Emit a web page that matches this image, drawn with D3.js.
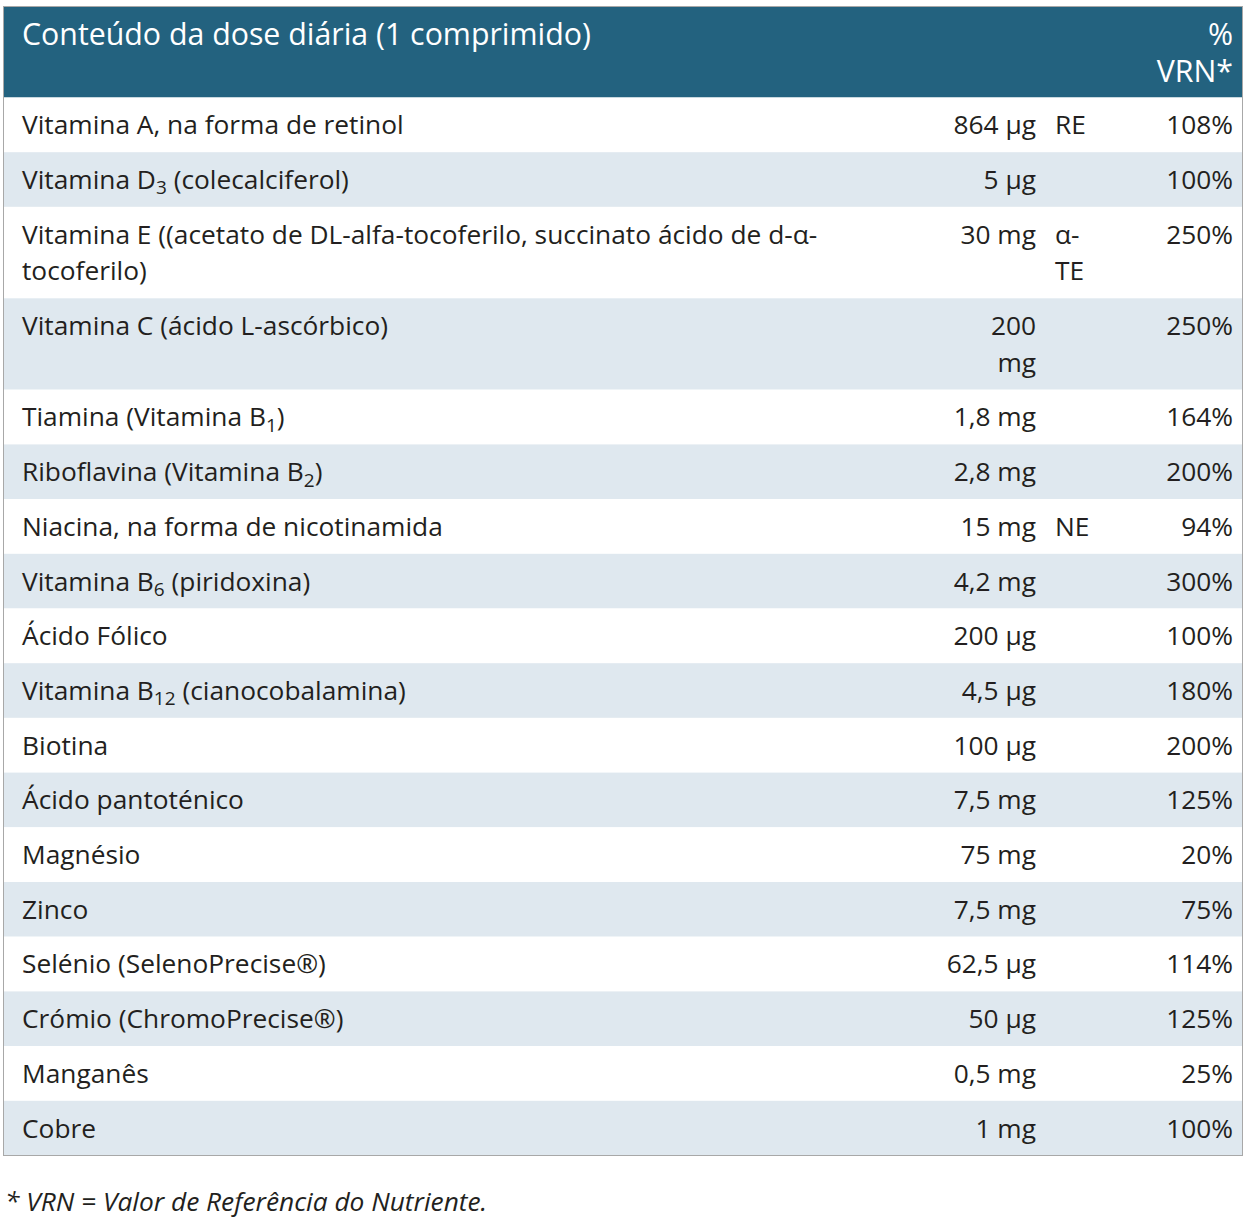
<!DOCTYPE html>
<html>
<head>
<meta charset="utf-8">
<script src="https://cdn.jsdelivr.net/npm/d3@7"></script>
<style>
  body { margin: 0; background: #fff; }
  svg text { font-family: "Open Sans", sans-serif; }
</style>
</head>
<body>
<div id="chart"></div>
<script>
// table content: one entry per row, "\n" marks where the original cell wraps
const headerTitle = "Conteúdo da dose diária (1 comprimido)";
const headerPct = "%\nVRN*";

const nutrients = [
  "Vitamina A, na forma de retinol",
  "Vitamina D_3 (colecalciferol)",
  "Vitamina E ((acetato de DL-alfa-tocoferilo, succinato ácido de d-α-\ntocoferilo)",
  "Vitamina C (ácido L-ascórbico)",
  "Tiamina (Vitamina B_1)",
  "Riboflavina (Vitamina B_2)",
  "Niacina, na forma de nicotinamida",
  "Vitamina B_6 (piridoxina)",
  "Ácido Fólico",
  "Vitamina B_12 (cianocobalamina)",
  "Biotina",
  "Ácido pantoténico",
  "Magnésio",
  "Zinco",
  "Selénio (SelenoPrecise®)",
  "Crómio (ChromoPrecise®)",
  "Manganês",
  "Cobre"
];
const amounts = [
  "864 µg", "5 µg", "30 mg", "200\nmg", "1,8 mg", "2,8 mg", "15 mg", "4,2 mg",
  "200 µg", "4,5 µg", "100 µg", "7,5 mg", "75 mg", "7,5 mg", "62,5 µg",
  "50 µg", "0,5 mg", "1 mg"
];
const units = [
  "RE", "", "α-\nTE", "", "", "", "NE", "", "", "", "", "", "", "", "", "", "", ""
];
const vrn = [
  "108%", "100%", "250%", "250%", "164%", "200%", "94%", "300%", "100%",
  "180%", "200%", "125%", "20%", "75%", "114%", "125%", "25%", "100%"
];
const footnote = "* VRN = Valor de Referência do Nutriente.";

const W = 1245, H = 1228;
const tbl = { left: 3.5, right: 1242.5, top: 6.5 };
const lineH = 36.7, padY = 9, headPadY = 8.8;
const col = { name: 22, amountEnd: 1036, unit: 1055, pctEnd: 1233 };
const fs = 26.3, headFs = 30.3, subFs = 19;
const textColor = "#231f20", headBg = "#23627f", stripe = "#dfe8ef", borderColor = "#a8a8a8";

const rows = nutrients.map((n, i) => ({
  name: n.split("\n"),
  amount: amounts[i].split("\n"),
  unit: units[i] ? units[i].split("\n") : [],
  pct: vrn[i].split("\n")
}));
rows.forEach(r => {
  r.lines = Math.max(r.name.length, r.amount.length, r.unit.length, r.pct.length);
  r.h = r.lines * lineH + 2 * padY;
});

const headLines = Math.max(1, headerPct.split("\n").length);
const headH = headLines * lineH + 2 * headPadY;

// cumulative row tops
let yy = tbl.top + headH;
rows.forEach(r => { r.y = yy; yy += r.h; });
const tableBottom = yy;

const svg = d3.select("#chart").append("svg")
  .attr("width", W).attr("height", H);

// header
svg.append("rect")
  .attr("x", tbl.left).attr("y", tbl.top)
  .attr("width", tbl.right - tbl.left).attr("height", headH)
  .attr("fill", headBg);

// baseline inside a line box for a given font size
const baseline = (top, size) => top + (lineH - size * 1.362) / 2 + size * 1.069;

svg.append("text")
  .attr("x", col.name)
  .attr("y", baseline(tbl.top + headPadY, headFs))
  .attr("font-size", headFs).attr("fill", "#fff")
  .text(headerTitle);

svg.append("text")
  .attr("text-anchor", "end").attr("font-size", headFs).attr("fill", "#fff")
  .selectAll("tspan")
  .data(headerPct.split("\n"))
  .join("tspan")
  .attr("x", col.pctEnd)
  .attr("y", (d, i) => baseline(tbl.top + headPadY + i * lineH, headFs))
  .text(d => d);

// body rows
const g = svg.selectAll("g.row")
  .data(rows)
  .join("g")
  .attr("class", "row")
  .attr("transform", d => `translate(0,${d.y})`);

g.append("rect")
  .attr("x", tbl.left).attr("y", 0)
  .attr("width", tbl.right - tbl.left).attr("height", d => d.h)
  .attr("fill", (d, i) => i % 2 ? stripe : "#fff");

// writes a line with "_" subscripts (e.g. B_12) as tspans
function richLine(sel, line) {
  const parts = line.split(/_(\d+)/);
  let shifted = false;
  parts.forEach((p, k) => {
    if (!p) return;
    const ts = sel.append("tspan").text(p);
    if (k % 2 === 1) {
      ts.attr("font-size", subFs).attr("dy", 5.5);
      shifted = true;
    } else if (shifted) {
      ts.attr("dy", -5.5);
      shifted = false;
    }
  });
}

function cell(gsel, key, x, anchor) {
  gsel.each(function (d) {
    if (!d[key].length) return;
    const t = d3.select(this).append("text")
      .attr("font-size", fs).attr("fill", textColor)
      .attr("text-anchor", anchor);
    d[key].forEach((line, li) => {
      const lt = t.append("tspan")
        .attr("x", x)
        .attr("y", baseline(padY + li * lineH, fs) - 0.8);
      richLine(lt, line);
    });
  });
}

cell(g, "name", col.name, "start");
cell(g, "amount", col.amountEnd, "end");
cell(g, "unit", col.unit, "start");
cell(g, "pct", col.pctEnd, "end");

// outer border
svg.append("rect")
  .attr("x", tbl.left).attr("y", tbl.top)
  .attr("width", tbl.right - tbl.left).attr("height", tableBottom - tbl.top)
  .attr("fill", "none").attr("stroke", borderColor).attr("stroke-width", 1);

// footnote
svg.append("text")
  .attr("x", 5).attr("y", tableBottom + 55)
  .attr("font-size", fs).attr("font-style", "italic").attr("fill", textColor)
  .text(footnote);
</script>
</body>
</html>
